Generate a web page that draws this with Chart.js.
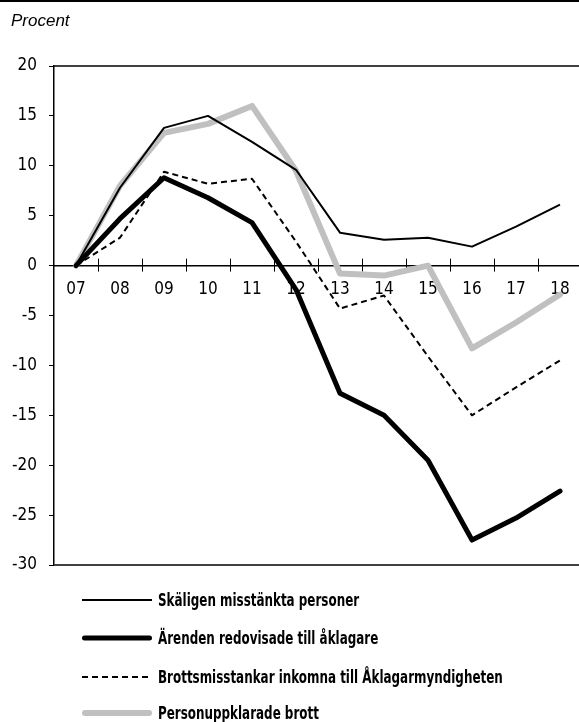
<!DOCTYPE html>
<html><head><meta charset="utf-8">
<script src="https://cdn.jsdelivr.net/npm/chart.js@4/dist/chart.umd.min.js"></script>
<style>
html,body{margin:0;padding:0;background:#fff;overflow:hidden;width:579px;height:722px;position:relative;}
#topline{position:absolute;left:0;top:0;width:579px;height:2px;background:#000;z-index:2;}
#unit{position:absolute;left:11px;top:11px;font:italic 17px "Liberation Sans",Arial,sans-serif;color:#000;}
#wrap{position:absolute;left:0;top:0;width:584px;height:722px;}
#legend{position:absolute;left:82px;top:588px;}
.row{position:absolute;left:0;height:24px;display:flex;align-items:center;white-space:nowrap;}
.row svg{width:70px;height:12px;margin-right:6px;flex:none;}
.row span{display:inline-block;font:bold 17px "Liberation Sans Narrow","DejaVu Sans Condensed",sans-serif;color:#000;transform:scaleX(0.78);transform-origin:left center;}
</style></head><body>
<div id="topline"></div>
<div id="wrap"><canvas id="c" width="584" height="722"></canvas></div>
<div id="unit">Procent</div>
<div id="legend"></div>
<script>
const categories = ['07','08','09','10','11','12','13','14','15','16','17','18'];
const seriesNames = ['Skäligen misstänkta personer','Ärenden redovisade till åklagare','Brottsmisstankar inkomna till Åklagarmyndigheten','Personuppklarade brott'];
const skaligen = [0, 7.8, 13.8, 15.0, 12.4, 9.6, 3.3, 2.6, 2.8, 1.9, 3.9, 6.1];
const arenden = [0, 4.7, 8.8, 6.8, 4.3, -2.4, -12.8, -15.0, -19.5, -27.5, -25.3, -22.6];
const brottsmisstankar = [0, 2.8, 9.4, 8.2, 8.7, 2.4, -4.3, -3.0, -9.1, -15.0, -12.2, -9.5];
const personuppklarade = [0, 8.0, 13.3, 14.2, 16.0, 9.5, -0.8, -1.0, 0.0, -8.3, -5.7, -2.9];
const yTickValues = [-30, -25, -20, -15, -10, -5, 0, 5, 10, 15, 20];

const FONT = '"Liberation Sans Narrow","DejaVu Sans Condensed",sans-serif';
const GRAY = '#c0c0c0';

const frame = {
  id: 'frame',
  beforeDatasetsDraw(chart) {
    const {ctx, chartArea: a, scales: {x, y}} = chart;
    ctx.save();
    ctx.strokeStyle = '#000';
    ctx.lineWidth = 1.5;
    ctx.beginPath(); ctx.moveTo(a.left, a.top); ctx.lineTo(a.right, a.top); ctx.stroke();
    ctx.strokeStyle = '#404040';
    ctx.lineWidth = 2;
    ctx.beginPath(); ctx.moveTo(a.left, a.bottom); ctx.lineTo(a.right, a.bottom); ctx.stroke();
    const y0 = y.getPixelForValue(0);
    ctx.strokeStyle = '#000';
    ctx.lineWidth = 1;
    ctx.beginPath();
    for (let i = 1; i < categories.length; i++) {
      const px = Math.round((x.getPixelForValue(i - 1) + x.getPixelForValue(i)) / 2) + 0.5;
      ctx.moveTo(px, y0 - 7); ctx.lineTo(px, y0 + 6);
    }
    ctx.stroke();
    ctx.restore();
  }
};

const datasets = [
  {label: seriesNames[0], data: skaligen, borderColor: '#000', borderWidth: 2},
  {label: seriesNames[1], data: arenden, borderColor: '#000', borderWidth: 5, borderCapStyle: 'round'},
  {label: seriesNames[2], data: brottsmisstankar, borderColor: '#000', borderWidth: 2, borderDash: [6, 4]},
  {label: seriesNames[3], data: personuppklarade, borderColor: GRAY, borderWidth: 6, borderCapStyle: 'round'}
].map(d => Object.assign({pointRadius: 0, tension: 0, fill: false, borderJoinStyle: 'round'}, d));

const chart = new Chart(document.getElementById('c'), {
  type: 'line',
  data: {labels: categories, datasets},
  options: {
    responsive: false,
    animation: false,
    layout: {padding: {left: 0, top: 66, right: 2, bottom: 157}},
    plugins: {legend: {display: false}, tooltip: {enabled: false}},
    scales: {
      x: {
        type: 'category',
        offset: true,
        position: {y: 0},
        grid: {display: false},
        border: {display: true, color: '#000', width: 1.5},
        ticks: {color: '#000', font: {family: FONT, size: 17}, padding: 6, maxRotation: 0, autoSkip: false}
      },
      y: {
        min: -30, max: 20,
        afterBuildTicks(scale) { scale.ticks = yTickValues.map(v => ({value: v})); },
        afterFit(scale) { scale.width = 54; },
        grid: {drawOnChartArea: false, drawTicks: true, tickLength: 5, color: '#000', lineWidth: 1},
        border: {display: true, color: '#000', width: 1.5},
        ticks: {color: '#000', font: {family: FONT, size: 17}, padding: 12}
      }
    }
  },
  plugins: [frame]
});

// legend built from the chart's own dataset styles
const legend = document.getElementById('legend');
const rowTops = [0, 38, 77, 113];
chart.data.datasets.forEach((ds, i) => {
  const row = document.createElement('div');
  row.className = 'row';
  row.style.top = rowTops[i] + 'px';
  const cap = ds.borderCapStyle === 'round' ? 'round' : 'butt';
  const pad = cap === 'round' ? ds.borderWidth / 2 : 0;
  const dash = ds.borderDash ? ds.borderDash.join(',') : 'none';
  row.innerHTML = '<svg viewBox="0 0 70 12"><line x1="' + pad + '" y1="6" x2="' + (70 - pad) + '" y2="6" stroke="' + ds.borderColor +
    '" stroke-width="' + ds.borderWidth + '" stroke-linecap="' + cap + '" stroke-dasharray="' + dash + '"/></svg>';
  const span = document.createElement('span');
  span.textContent = ds.label;
  row.appendChild(span);
  legend.appendChild(row);
});
</script>
</body></html>
